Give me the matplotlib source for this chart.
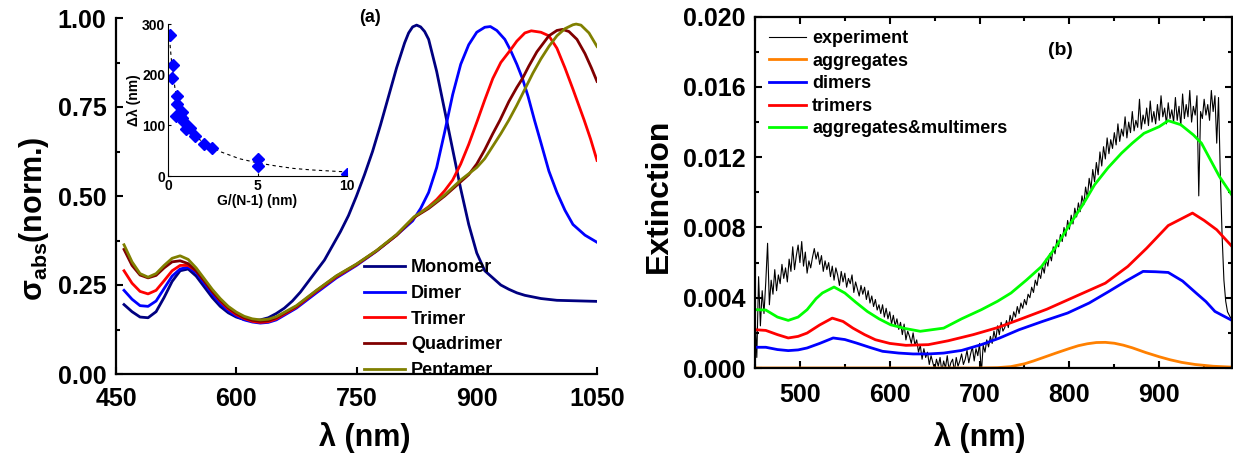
import matplotlib
matplotlib.use('Agg')
import matplotlib.pyplot as plt
import numpy as np
from matplotlib.ticker import MultipleLocator, FormatStrFormatter

plt.rcParams['font.family'] = ['Liberation Sans', 'DejaVu Sans']
plt.rcParams['font.weight'] = 'bold'
plt.rcParams['mathtext.fontset'] = 'custom'
plt.rcParams['mathtext.rm'] = 'Liberation Sans:bold'
plt.rcParams['mathtext.it'] = 'Liberation Sans:bold'
plt.rcParams['mathtext.bf'] = 'Liberation Sans:bold'

# ---------------- panel (a): normalized absorption ----------------
mono_x = [460, 470, 480, 490, 500, 510, 520, 530, 540, 550, 560, 570, 580, 590, 600, 610, 620, 630, 640, 650,
          660, 670, 680, 690, 700, 710, 720, 730, 740, 750, 760, 770, 780, 790, 800, 810, 815, 820, 825, 830,
          835, 840, 850, 860, 870, 880, 890, 900, 910, 920, 930, 940, 950, 960, 980, 1000, 1050]
mono_y = [0.195, 0.175, 0.160, 0.158, 0.175, 0.215, 0.260, 0.290, 0.295, 0.275, 0.245, 0.215, 0.190, 0.172, 0.160,
          0.153, 0.150, 0.152, 0.158, 0.170, 0.185, 0.205, 0.230, 0.260, 0.290, 0.320, 0.360, 0.400, 0.445, 0.500,
          0.560, 0.625, 0.700, 0.780, 0.860, 0.930, 0.958, 0.975, 0.980, 0.975, 0.962, 0.940, 0.850, 0.740, 0.630,
          0.520, 0.420, 0.340, 0.290, 0.270, 0.250, 0.238, 0.228, 0.221, 0.212, 0.207, 0.204]

dim_x = [460, 470, 480, 490, 500, 510, 520, 530, 540, 550, 560, 570, 580, 590, 600, 610, 620, 630, 640, 650,
         675, 700, 725, 750, 775, 800, 820, 830, 840, 850, 860, 870, 880, 890, 900, 910, 917, 925, 935, 942,
         950, 957, 964, 972, 980, 990, 1000, 1010, 1020, 1035, 1050]
dim_y = [0.235, 0.210, 0.192, 0.190, 0.205, 0.240, 0.275, 0.295, 0.300, 0.285, 0.255, 0.225, 0.198, 0.178, 0.163,
         0.152, 0.146, 0.143, 0.145, 0.152, 0.185, 0.228, 0.270, 0.305, 0.345, 0.390, 0.430, 0.465, 0.510, 0.580,
         0.680, 0.785, 0.870, 0.925, 0.960, 0.974, 0.976, 0.965, 0.940, 0.910, 0.870, 0.830, 0.780, 0.713, 0.650,
         0.570, 0.510, 0.460, 0.420, 0.390, 0.370]

tri_x = [460, 470, 480, 490, 500, 510, 520, 530, 540, 550, 560, 570, 580, 590, 600, 610, 620, 630, 640, 650,
         675, 700, 725, 750, 775, 800, 822, 840, 850, 860, 870, 880, 890, 901, 910, 920, 930, 942, 950, 960,
         968, 980, 990, 1000, 1010, 1020, 1034, 1042, 1050]
tri_y = [0.290, 0.255, 0.232, 0.225, 0.235, 0.262, 0.290, 0.305, 0.305, 0.290, 0.262, 0.232, 0.205, 0.183, 0.167,
         0.156, 0.148, 0.145, 0.147, 0.155, 0.188, 0.232, 0.273, 0.307, 0.346, 0.390, 0.440, 0.470, 0.490, 0.515,
         0.545, 0.590, 0.645, 0.713, 0.770, 0.830, 0.875, 0.910, 0.935, 0.958, 0.964, 0.960, 0.950, 0.915, 0.860,
         0.800, 0.713, 0.660, 0.600]

quad_x = [460, 470, 480, 490, 500, 510, 520, 530, 540, 550, 560, 570, 580, 590, 600, 610, 620, 630, 640, 650,
          675, 700, 725, 750, 775, 800, 822, 840, 860, 880, 890, 900, 910, 920, 929, 940, 950, 957, 965, 975,
          990, 1000, 1007, 1015, 1025, 1035, 1043, 1050]
quad_y = [0.350, 0.305, 0.278, 0.270, 0.277, 0.298, 0.315, 0.318, 0.310, 0.290, 0.262, 0.232, 0.207, 0.186, 0.170,
          0.158, 0.151, 0.148, 0.150, 0.158, 0.190, 0.234, 0.275, 0.308, 0.346, 0.390, 0.440, 0.465, 0.500, 0.540,
          0.560, 0.590, 0.630, 0.675, 0.713, 0.765, 0.805, 0.830, 0.865, 0.905, 0.950, 0.965, 0.968, 0.962, 0.940,
          0.900, 0.860, 0.822]

pent_x = [460, 470, 480, 490, 500, 510, 520, 530, 540, 550, 560, 570, 580, 590, 600, 610, 620, 630, 640, 650,
          675, 700, 725, 750, 775, 800, 822, 840, 860, 880, 900, 910, 920, 930, 940, 950, 960, 970, 980, 990,
          1000, 1010, 1020, 1024, 1030, 1040, 1050]
pent_y = [0.363, 0.315, 0.282, 0.272, 0.282, 0.305, 0.325, 0.332, 0.322, 0.298, 0.268, 0.238, 0.212, 0.190, 0.174,
          0.162, 0.155, 0.152, 0.154, 0.161, 0.192, 0.235, 0.276, 0.309, 0.347, 0.392, 0.442, 0.468, 0.503, 0.545,
          0.580, 0.605, 0.640, 0.675, 0.713, 0.755, 0.800, 0.845, 0.885, 0.920, 0.950, 0.970, 0.981, 0.983, 0.980,
          0.958, 0.920]

# inset: peak shift vs gap
gap = [0.13, 0.28, 0.24, 0.5, 0.5, 0.47, 0.78, 0.69, 0.78, 0.88, 1.02, 1.21, 1.53, 1.99, 2.48, 5.0, 5.0, 10.0]
shift = [278, 219, 193, 158, 143, 118, 127, 118, 114, 107, 93, 94, 79, 63, 56, 34, 20, 3]
fit_x = [0.05, 0.2, 0.4, 0.7, 1.0, 1.5, 2.0, 3.0, 4.0, 5.0, 6.0, 7.0, 8.0, 9.0, 10.0]
fit_y = [285, 225, 170, 130, 105, 80, 65, 47, 34, 26, 20, 15, 12, 10, 8]

# ---------------- panel (b): extinction ----------------
exp_start, exp_stop, exp_step = 450, 980, 2
exp_y = [3.0, 0.6, 5.2, 2.4, 4.4, 3.1, 4.9, 7.1, 3.6, 5.0,
         4.2, 5.6, 4.4, 5.3, 4.8, 5.9, 5.1, 5.7, 4.9, 6.2,
         5.5, 6.9, 5.6, 6.4, 7.0, 6.0, 7.2, 5.8, 6.6, 5.4,
         6.1, 5.7, 6.3, 6.8, 6.2, 6.6, 5.9, 6.4, 5.5, 6.1,
         5.6, 6.0, 5.2, 5.8, 5.0, 5.7, 5.3, 4.7, 5.5, 4.9,
         5.4, 4.6, 5.1, 4.8, 5.3, 4.3, 4.9, 4.5, 4.1, 4.7,
         4.2, 4.6, 3.9, 4.4, 3.7, 4.1, 3.5, 3.9, 3.3, 3.6,
         3.1, 3.6, 2.9, 3.4, 2.8, 3.2, 2.5, 3.0, 2.4, 2.8,
         2.2, 2.6, 1.9, 2.5, 1.6, 2.1, 1.8, 1.4, 2.0, 1.3,
         1.6, 0.9, 1.3, 0.5, 1.1, 0.6, 0.9, 0.2, 0.7, 0.3,
         -0.1, 0.5, 0.1, 0.6, -0.2, 0.4, 0.0, 0.7, -0.1, 0.3,
         0.5, -0.2, 0.6, 0.1, 0.4, 0.8, 0.2, 0.5, 1.0, 0.3,
         0.8, 1.2, 0.4, 1.1, 0.7, 1.4, -0.3, 1.3, 0.9, 1.6,
         1.2, 1.8, 1.4, 2.1, 1.6, 2.4, 1.9, 2.6, 2.1, 2.3,
         2.7, 2.3, 3.0, 2.6, 3.2, 2.9, 3.5, 3.1, 3.7, 3.4,
         3.9, 3.6, 4.2, 4.0, 4.6, 4.3, 5.0, 4.7, 5.4, 5.1,
         5.8, 5.4, 6.2, 5.8, 6.5, 6.1, 6.9, 6.5, 7.3, 6.9,
         7.6, 7.2, 8.0, 7.5, 8.4, 7.9, 8.7, 8.2, 9.1, 8.6,
         9.4, 8.9, 9.8, 9.3, 10.3, 9.7, 10.8, 10.2, 11.3, 10.6,
         11.7, 11.0, 12.3, 11.5, 12.6, 11.9, 13.1, 12.2, 13.0, 12.5,
         13.4, 12.7, 13.9, 12.9, 13.6, 13.2, 14.3, 13.1, 14.0, 13.4,
         14.6, 13.5, 14.1, 13.7, 15.3, 13.6, 14.4, 13.9, 14.8, 13.8,
         15.2, 14.0, 14.6, 13.9, 15.0, 14.1, 15.5, 14.3, 14.8, 13.9,
         15.1, 14.2, 14.7, 14.0, 15.4, 14.1, 14.9, 13.8, 15.6, 14.2,
         15.0, 14.3, 15.8, 14.0, 14.9, 14.4, 15.5, 9.8, 14.6, 14.2,
         15.3, 14.4, 15.0, 14.1, 15.8, 14.6, 15.5, 12.8, 15.4, 11.0,
         7.5, 5.0, 3.8, 3.2, 3.0, 2.8]

agg_x = [450, 500, 550, 600, 650, 700, 720, 735, 750, 760, 770, 785, 800, 810, 820, 830, 840, 850, 860, 870,
         885, 900, 912, 925, 940, 960, 981]
agg_y = [0, 0, 0, 0, 0, 0, 0.02, 0.08, 0.24, 0.40, 0.58, 0.85, 1.11, 1.27, 1.38, 1.45, 1.46, 1.41, 1.30, 1.15,
         0.88, 0.64, 0.47, 0.32, 0.20, 0.10, 0.05]

dmr_x = [450, 462, 475, 487, 498, 508, 522, 537, 550, 563, 578, 592, 610, 626, 643, 660, 680, 702, 722, 744,
         770, 798, 822, 844, 863, 882, 896, 910, 926, 941, 952, 962, 972, 981]
dmr_y = [1.18, 1.18, 1.05, 0.99, 1.03, 1.14, 1.40, 1.71, 1.62, 1.42, 1.17, 0.95, 0.85, 0.80, 0.80, 0.85, 1.00,
         1.33, 1.70, 2.18, 2.65, 3.13, 3.70, 4.36, 4.95, 5.50, 5.48, 5.44, 4.95, 4.27, 3.78, 3.22, 2.95, 2.71]

tmr_x = [450, 462, 475, 487, 498, 508, 522, 536, 548, 559, 572, 584, 600, 618, 643, 665, 693, 720, 744, 775,
         807, 840, 865, 886, 910, 937, 950, 964, 981]
tmr_y = [2.18, 2.14, 1.90, 1.71, 1.80, 1.99, 2.45, 2.84, 2.65, 2.27, 1.90, 1.61, 1.40, 1.29, 1.33, 1.55, 1.90,
         2.30, 2.75, 3.35, 4.08, 4.83, 5.78, 6.82, 8.11, 8.82, 8.40, 7.87, 6.92]

grn_x = [450, 462, 475, 487, 498, 508, 518, 525, 538, 550, 562, 575, 588, 601, 617, 634, 660, 680, 702, 720,
         735, 752, 769, 785, 799, 815, 828, 843, 858, 870, 883, 900, 910, 924, 938, 947, 955, 967, 982]
grn_y = [3.32, 3.30, 2.90, 2.71, 2.90, 3.32, 3.95, 4.27, 4.61, 4.27, 3.75, 3.22, 2.80, 2.46, 2.25, 2.09, 2.27,
         2.80, 3.32, 3.80, 4.27, 5.00, 5.78, 6.90, 8.06, 9.30, 10.43, 11.40, 12.23, 12.80, 13.36, 13.74, 14.08,
         13.85, 13.27, 12.80, 12.04, 10.90, 9.76]

W, H = 1233, 455
fig = plt.figure(figsize=(W / 100, H / 100), dpi=100)

def px_axes(left, top, right, bottom):
    return fig.add_axes([left / W, 1 - bottom / H, (right - left) / W, (bottom - top) / H])

# ---- (a) ----
ax1 = px_axes(116, 18, 597, 374)
ax1.plot(mono_x, mono_y, color='#000080', lw=2, label='Monomer')
ax1.plot(dim_x, dim_y, color='#0000ff', lw=2, label='Dimer')
ax1.plot(tri_x, tri_y, color='#ff0000', lw=2, label='Trimer')
ax1.plot(quad_x, quad_y, color='#800000', lw=2, label='Quadrimer')
ax1.plot(pent_x, pent_y, color='#808000', lw=2, label='Pentamer')
ax1.set_xlim(450, 1050)
ax1.set_ylim(0, 1.0)
ax1.set_xticks([450, 600, 750, 900, 1050])
ax1.yaxis.set_major_locator(MultipleLocator(0.25))
ax1.yaxis.set_minor_locator(MultipleLocator(0.125))
ax1.yaxis.set_major_formatter(FormatStrFormatter('%.2f'))
ax1.spines['top'].set_visible(False)
ax1.spines['right'].set_visible(False)
for s in ['left', 'bottom']:
    ax1.spines[s].set_linewidth(1.6)
ax1.tick_params(which='both', direction='in', width=1.5, labelsize=18)
ax1.tick_params(which='major', length=5)
ax1.tick_params(which='minor', length=3)
ax1.tick_params(axis='x', pad=9)
ax1.tick_params(axis='y', pad=7)
ax1.set_xlabel('λ (nm)', fontsize=22, fontweight='bold')
ax1.xaxis.set_label_coords(0.518, -0.135)
ax1.set_ylabel('σ$_{\\mathrm{abs}}$(norm.)', fontsize=22, fontweight='bold')
ax1.yaxis.set_label_coords(-0.136, 0.435)
ax1.legend(loc='upper left', bbox_to_anchor=(0.515, 0.322), frameon=False, fontsize=13,
           borderpad=0, borderaxespad=0, labelspacing=0.48, handlelength=2.28, handletextpad=0.33)
ax1.text(767, 1.0, '(a)', fontsize=13, fontweight='bold', ha='center', va='center', clip_on=False)

# inset
axi = px_axes(168, 24, 347, 176)
axi.plot(fit_x, fit_y, 'k--', lw=0.8, dashes=(3, 3))
axi.plot(gap, shift, 'D', color='#0000ff', ms=6, mec='#0000ff')
axi.set_xlim(0, 10)
axi.set_ylim(0, 300)
axi.set_xticks([0, 5, 10])
axi.set_yticks([0, 100, 200, 300])
axi.spines['top'].set_visible(False)
axi.spines['right'].set_visible(False)
axi.tick_params(direction='in', length=2, labelsize=10, pad=2)
axi.set_xlabel('G/(N-1) (nm)', fontsize=10, fontweight='bold', labelpad=1)
axi.set_ylabel('Δλ (nm)', fontsize=10, fontweight='bold', labelpad=1)
axi.patch.set_alpha(0)

# ---- (b) ----
exp_x = np.arange(exp_start, exp_stop + 1, exp_step)
ax2 = px_axes(755, 16.7, 1232, 368)
ax2.plot(exp_x, np.array(exp_y) / 1000, color='black', lw=0.8, label='experiment')
ax2.plot(agg_x, np.array(agg_y) / 1000, color='#ff8000', lw=2, label='aggregates')
ax2.plot(dmr_x, np.array(dmr_y) / 1000, color='#0000ff', lw=2, label='dimers')
ax2.plot(tmr_x, np.array(tmr_y) / 1000, color='#ff0000', lw=2, label='trimers')
ax2.plot(grn_x, np.array(grn_y) / 1000, color='#00ff00', lw=2, label='aggregates&multimers')
ax2.set_xlim(450, 981)
ax2.set_ylim(0, 0.020)
ax2.xaxis.set_major_locator(MultipleLocator(100))
ax2.xaxis.set_minor_locator(MultipleLocator(50))
ax2.yaxis.set_major_locator(MultipleLocator(0.004))
ax2.yaxis.set_minor_locator(MultipleLocator(0.002))
ax2.yaxis.set_major_formatter(FormatStrFormatter('%.3f'))
for s in ax2.spines.values():
    s.set_linewidth(1.6)
ax2.tick_params(which='both', direction='in', width=1.5, labelsize=18, top=True, right=True)
ax2.tick_params(which='major', length=5)
ax2.tick_params(which='minor', length=3)
ax2.tick_params(axis='x', pad=11)
ax2.tick_params(axis='y', pad=7)
ax2.set_xlabel('λ (nm)', fontsize=22, fontweight='bold')
ax2.xaxis.set_label_coords(0.472, -0.154)
ax2.set_ylabel('Extinction', fontsize=23, fontweight='bold')
ax2.yaxis.set_label_coords(-0.17, 0.49)
ax2.legend(loc='upper left', bbox_to_anchor=(0.0285, 0.962), frameon=False, fontsize=13,
           borderpad=0, borderaxespad=0, labelspacing=0.31, handlelength=2.08, handletextpad=0.33)
ax2.text(0.64, 0.905, '(b)', fontsize=14, fontweight='bold', ha='center', va='center',
         transform=ax2.transAxes)

fig.savefig('out.png', dpi=100)
